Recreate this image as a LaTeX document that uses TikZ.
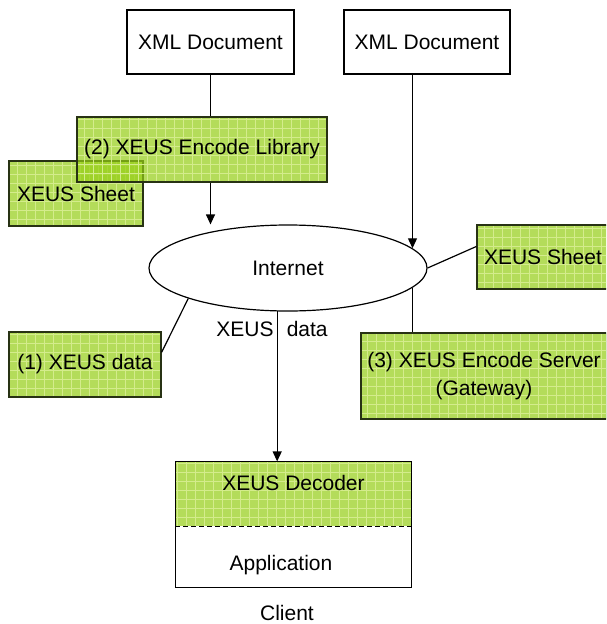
\documentclass[tikz,border=0pt]{standalone}
\usepackage{fontspec}
\setmainfont{Liberation Sans}
\usetikzlibrary{shapes.geometric,arrows.meta}
\definecolor{xeusgreen}{RGB}{148,205,20}
\definecolor{xeusgrid}{RGB}{212,236,140}
\definecolor{xeusedge}{RGB}{40,50,20}
\begin{document}
\begin{tikzpicture}[x=1pt,y=-1pt,line width=1.2pt,font=\fontsize{21}{28}\selectfont,doc/.style={shape=rectangle,draw=black,inner sep=0pt},xeus/.style={doc,draw=xeusedge,fill=xeusgreen,fill opacity=0.7,text opacity=1,path picture={\draw[xeusgrid,line width=0.5pt] (path picture bounding box.south west) grid[step=9pt] (path picture bounding box.north east);}},cloud/.style={shape=ellipse,draw=black,inner sep=0pt},link/.style={-{Triangle[length=10pt,width=9pt]}}]
\def\boxh{65pt};

\clip (0,0) rectangle (606,624);

\node[doc,minimum width=167pt,minimum height=64pt] (xmlA) at (210.5,42) {XML Document};
\node[doc,minimum width=166pt,minimum height=64pt] (xmlB) at (427,42) {XML Document};
\node[cloud,minimum width=278pt,minimum height=86pt] (net) at (288,268) {Internet};

\draw[link] (xmlA.south) -- (xmlA.south |- net.north);
\draw[link] (xmlB.south -| net.9) -- (net.9);

\node[xeus,minimum width=134pt,minimum height=\boxh] (sheetL) at (76,193.5) {XEUS Sheet};
\node[xeus,minimum width=250pt,minimum height=\boxh] (lib) at (202,149.5) {(2) XEUS Encode Library};

\node[xeus,minimum width=132pt,minimum height=64pt] (sheetR) at (543,257) {XEUS Sheet};
\draw (net.east) -- (sheetR.171);

\node[xeus,minimum width=246pt,minimum height=86pt,align=center] (server) at (484,376) {(3) XEUS Encode Server\\(Gateway)};
\draw (net.-9) -- (net.-9 |- server.north);

\node[xeus,minimum width=152pt,minimum height=\boxh] (data) at (85,364.5) {(1) XEUS data};
\draw (data.9) -- (net.-163);

% client side
\node[xeus,draw=none,minimum width=235pt,minimum height=64pt,text height=15.5pt,text depth=22.5pt] (dec) at (293.5,494) {XEUS Decoder};
\node[doc,draw=none,minimum height=61pt,text height=33pt,text depth=4.5pt] (app) at (281,556.5) {Application};
\draw (dec.north west) rectangle (dec.east |- app.south);
\draw[dashed,dash pattern=on 5pt off 3pt] (dec.south west) -- (dec.south east);
\node (client) at (287,613) {Client};

\draw[link] (net.-104) -- (net.-104 |- dec.north) node[pos=0.12,left,inner sep=3pt] {XEUS} node[pos=0.12,right,inner xsep=9pt] {data};
\end{tikzpicture}
\end{document}
